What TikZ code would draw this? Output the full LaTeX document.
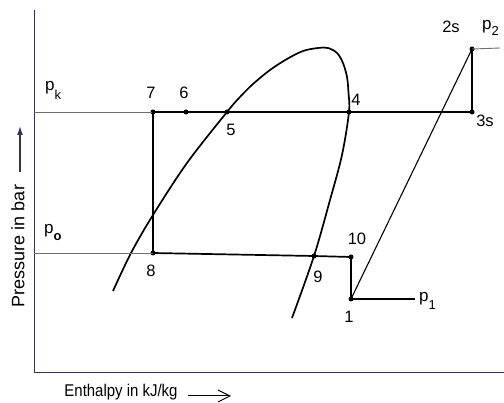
\documentclass[tikz,border=0pt]{standalone}
\usepackage{fontspec}
\setmainfont{Liberation Sans}
\usetikzlibrary{arrows.meta}
\definecolor{axiscol}{RGB}{55,50,85}
\definecolor{thingray}{RGB}{110,110,110}
\newcommand{\lowsub}[2]{\raisebox{#1}{\fontsize{13}{13}\selectfont #2}}
\begin{document}
\begin{tikzpicture}[x=1pt,y=-1pt,
  dot/.style={circle,fill=black,inner sep=0pt,minimum size=5pt},
  lbl/.style={font=\fontsize{16.5}{16.5}\selectfont,inner sep=0pt},
  plbl/.style={font=\fontsize{17}{17}\selectfont,inner sep=0pt,anchor=base west},
  thickln/.style={line width=1.7pt,line join=round},
  thinln/.style={line width=0.9pt,draw=thingray},
  blackthin/.style={line width=1.1pt,draw=black},
  axisln/.style={line width=1pt,draw=axiscol}]
\useasboundingbox (0,0) rectangle (504,403);

% axes
\coordinate (ytop) at (34,10);
\coordinate (orig) at (34,373);
\coordinate (xend) at (504,373);
\draw[axisln] (ytop) -- (orig) -- (xend);

% state points
\node[dot] (n7) at (153,112) {};
\node[dot] (n6) at (186,112) {};
\node[dot] (n5) at (227,112) {};
\node[dot] (n4) at (349,112) {};
\node[dot] (n3s) at (472,112) {};
\node[dot] (n2s) at (472,49) {};
\node[dot] (n8) at (153,253) {};
\node[dot] (n9) at (314,256) {};
\node[dot] (n10) at (351,257) {};
\node[dot] (n1) at (351,299) {};
\coordinate (pkL) at (34,112);
\coordinate (poL) at (34,253);
\coordinate (p2R) at (500,48);
\coordinate (p1R) at (415,299);

% saturation dome
\draw[thickln] plot[smooth,tension=0.55] coordinates {(113,291) (131,253) (153,215) (187,163) (227,112) (240,97) (253,84) (270,70) (287,59) (303,51) (318,48) (328,48) (337,53) (343,63) (347,77) (348.5,93) (349,112) (342,155) (330,200) (314,256) (292,318)};

% cycle lines
\draw[thinln] (pkL) -- (n7.center);
\draw[thickln] (n7.center) -- (n3s.center) -- (n2s.center);
\draw[thickln] (n7.center) -- (n8.center);
\draw[thinln] (poL) -- (n8.center);
\draw[thickln] (n8.center) -- (n9.center) -- (n10.center) -- (n1.center);
\draw[blackthin] (n1.center) -- (n2s.center);
\draw[blackthin] (n1.center) -- (p1R);
\draw[thinln] (n2s.center) -- (p2R);

% point labels
\node[lbl] (l7) at (151,93) {7};
\node[lbl] (l6) at (184,93) {6};
\node[lbl] (l5) at (231,130) {5};
\node[lbl] (l4) at (356,100) {4};
\node[lbl] (l3s) at (485,121) {3s};
\node[lbl] (l2s) at (451,27) {2s};
\node[lbl] (l10) at (357,239) {10};
\node[lbl] (l9) at (318,277) {9};
\node[lbl] (l1) at (349,317) {1};
\node[lbl] (l8) at (151,271) {8};

% pressure labels
\node[plbl] (lpk) at (45,91) {p\lowsub{-9pt}{k}};
\node[plbl] (lpo) at (44,234) {p\lowsub{-7pt}{\textbf{o}}};
\node[plbl] (lp1) at (419,302) {p\lowsub{-8pt}{1}};
\node[plbl] (lp2) at (482,30) {p\lowsub{-6pt}{2}};

% axis labels
\node[font=\fontsize{18}{18}\selectfont,inner sep=0pt,rotate=90] (ylab) at (18,246) {Pressure in bar};
\coordinate (yaS) at (20,172);
\coordinate (yaE) at (20,126);
\draw[line width=1.3pt,draw=axiscol,-{Latex[length=9pt,width=6pt]}] (yaS) -- (yaE);
\node[font=\fontsize{17}{17}\selectfont,inner sep=0pt] (xlab) at (121,392) {\scalebox{0.88}[1]{Enthalpy in kJ/kg}};
\coordinate (xaS) at (188,396);
\coordinate (xaE) at (231,396);
\draw[line width=1pt,-{Straight Barb[length=12pt,width=12pt]}] (xaS) -- (xaE);
\end{tikzpicture}
\end{document}
